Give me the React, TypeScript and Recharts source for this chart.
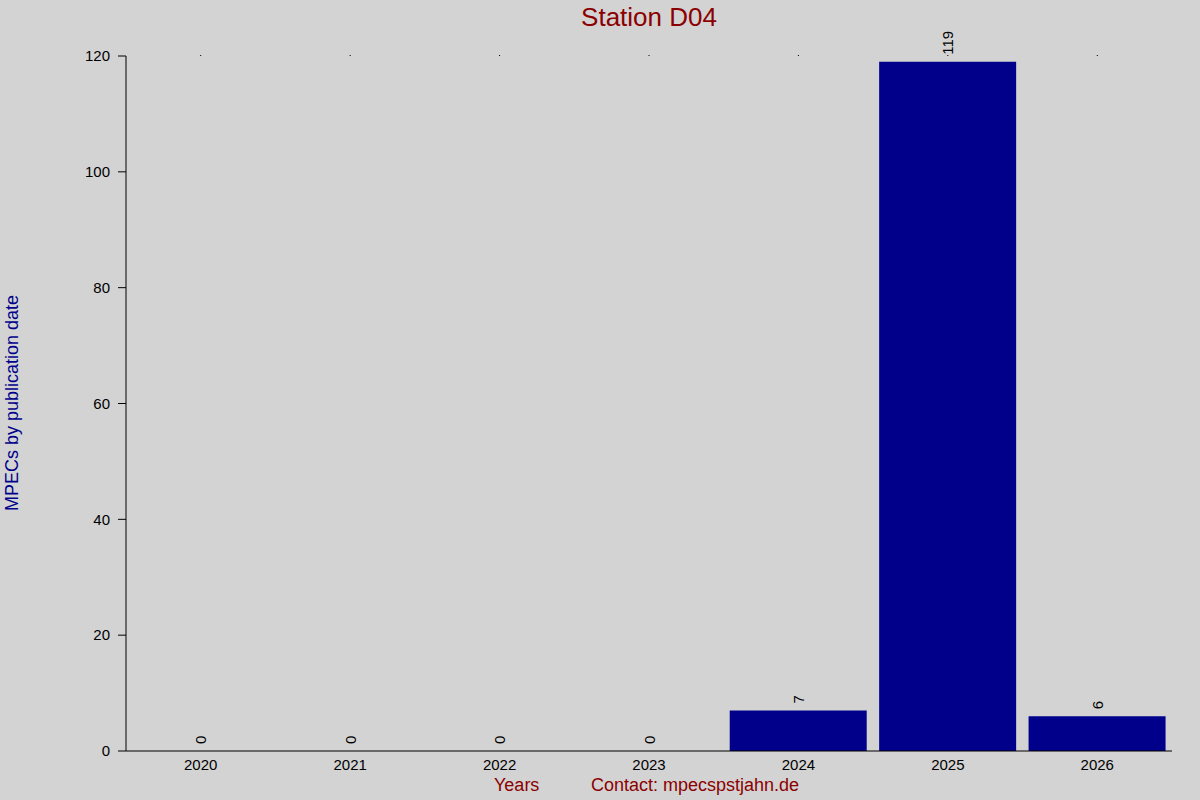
import { ComposedChart, Bar, Line, XAxis, YAxis, LabelList } from 'recharts'

const years = ['2020', '2021', '2022', '2023', '2024', '2025', '2026']
const mpecs = [0, 0, 0, 0, 7, 119, 6]
const yTicks = [0, 20, 40, 60, 80, 100, 120]

const data = years.map((year, i) => ({ year, count: mpecs[i] }))

const font = 'Arial, "Liberation Sans", sans-serif'

// value labels sit above each bar, rotated, also for the empty years
const renderLabel = (props: any) => {
  const { x, y, value } = props
  const ty = y - 7
  return (
    <text
      x={x}
      y={ty}
      transform={`rotate(-90 ${x} ${ty})`}
      textAnchor="start"
      dominantBaseline="central"
      fontSize={15}
      fontFamily={font}
      fill="#000"
    >
      {value}
    </text>
  )
}

export default function App() {
  return (
    <div
      style={{
        position: 'absolute',
        left: 0,
        top: 0,
        width: 1200,
        height: 800,
        background: '#d3d3d3',
        fontFamily: font
      }}
    >
      <div
        style={{
          position: 'absolute',
          left: 0,
          width: 1298,
          top: 2,
          textAlign: 'center',
          fontSize: 26,
          color: '#8b0000'
        }}
      >
        Station D04
      </div>
      <div
        style={{
          position: 'absolute',
          left: 12,
          top: 403,
          transform: 'translate(-50%, -50%) rotate(-90deg)',
          whiteSpace: 'nowrap',
          fontSize: 18,
          color: '#00008b'
        }}
      >
        MPECs by publication date
      </div>
      <div
        style={{
          position: 'absolute',
          left: 494,
          top: 775,
          fontSize: 18,
          color: '#8b0000',
          whiteSpace: 'nowrap'
        }}
      >
        Years
      </div>
      <div
        style={{
          position: 'absolute',
          left: 591,
          top: 775,
          fontSize: 18,
          color: '#8b0000',
          whiteSpace: 'nowrap'
        }}
      >
        Contact: mpecspstjahn.de
      </div>
      <ComposedChart
        width={1200}
        height={800}
        data={data}
        margin={{ top: 55, right: 28, left: 0, bottom: 0 }}
        barCategoryGap={6}
      >
        <XAxis
          dataKey="year"
          xAxisId="top"
          orientation="top"
          height={1}
          axisLine={false}
          tickSize={1}
          tickMargin={0}
          tickLine={{ stroke: '#000' }}
          tick={{ fill: 'transparent', fontSize: 1 }}
        />
        <XAxis
          dataKey="year"
          height={49}
          axisLine={{ stroke: '#000' }}
          tickLine={false}
          tick={{ fill: '#000', fontSize: 15, fontFamily: font }}
        />
        <YAxis
          width={126}
          domain={[0, 120]}
          ticks={yTicks}
          axisLine={{ stroke: '#000' }}
          tickLine={{ stroke: '#000' }}
          tickSize={8}
          tickMargin={8}
          tick={{ fill: '#000', fontSize: 15, fontFamily: font }}
        />
        <Bar dataKey="count" fill="#00008b" isAnimationActive={false} />
        <Line
          dataKey="count"
          stroke="none"
          dot={false}
          activeDot={false}
          isAnimationActive={false}
        >
          <LabelList dataKey="count" content={renderLabel} />
        </Line>
      </ComposedChart>
    </div>
  )
}
